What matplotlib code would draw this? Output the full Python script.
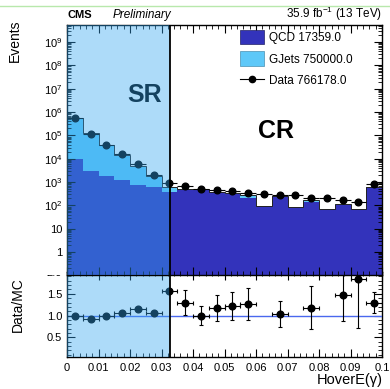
import matplotlib
matplotlib.use('Agg')
import matplotlib.pyplot as plt
import numpy as np
from matplotlib.patches import Patch, Rectangle
from matplotlib.lines import Line2D
from matplotlib.ticker import FixedLocator, MultipleLocator, FuncFormatter, LogLocator, NullFormatter

plt.rcParams['font.family'] = ['Liberation Sans', 'DejaVu Sans']
plt.rcParams['mathtext.fontset'] = 'custom'
plt.rcParams['mathtext.rm'] = 'Liberation Sans'
plt.rcParams['mathtext.it'] = 'Liberation Sans:italic'
plt.rcParams['mathtext.bf'] = 'Liberation Sans:bold'

# ---------------- data ----------------
bin_edges = [0.000, 0.005, 0.010, 0.015, 0.020, 0.025, 0.030, 0.035, 0.040, 0.045,
             0.050, 0.055, 0.060, 0.065, 0.070, 0.075, 0.080, 0.085, 0.090, 0.095, 0.100]
data = [582800, 115000, 39000, 16000, 5700, 1940, 940, 675, 500, 455,
        410, 350, 316, 277, 285, 200, 205, 170, 135, 820]
qcd = [9400, 2950, 1800, 1200, 740, 590, 390, 460, 480, 375,
       306, 216, 94, 256, 86, 140, 68, 106, 73, 630]
gjets = [573400, 121050, 37200, 13750, 4220, 1260, 210, 60, 20, 10,
         30, 60, 0, 10, 0, 30, 0, 10, 0, 0]
ratio = [1.00, 0.93, 1.00, 1.07, 1.15, 1.05, 1.56, 1.30, 1.00, 1.18,
         1.22, 1.27, np.nan, 1.04, np.nan, 1.18, np.nan, 1.47, 1.84, 1.30]
ratio_err_lo = [0.02, 0.02, 0.02, 0.02, 0.03, 0.04, 0.04, 0.28, 0.22, 0.30,
                0.33, 0.36, np.nan, 0.30, np.nan, 0.49, np.nan, 0.59, 1.13, 0.24]
ratio_err_hi = [0.02, 0.02, 0.02, 0.02, 0.03, 0.04, 0.04, 0.28, 0.22, 0.30,
                0.33, 0.36, np.nan, 0.30, np.nan, 0.49, np.nan, 0.90, 1.20, 0.24]
sr_cut = 0.0326
legend_labels = ['QCD 17359.0', 'GJets 750000.0', 'Data 766178.0']
x_ticks = [0.0, 0.01, 0.02, 0.03, 0.04, 0.05, 0.06, 0.07, 0.08, 0.09, 0.1]
y_ticks_up = [1, 10, 1e2, 1e3, 1e4, 1e5, 1e6, 1e7, 1e8, 1e9]
y_ticks_low = [0.5, 1.0, 1.5, 2.0]

# ---------------- styling ----------------
c_qcd = '#3333bb'
c_gj = '#5ec8f8'
c_sr = '#34a7f2'
W, H = 390, 389

edges = np.array(bin_edges)
centers = 0.5 * (edges[:-1] + edges[1:])
halfw = 0.5 * (edges[1:] - edges[:-1])
data_a = np.array(data, float)
qcd_a = np.array(qcd, float)
gj_a = np.array(gjets, float)
tot = qcd_a + gj_a

fig = plt.figure(figsize=(W / 100, H / 100), dpi=100)
ax_low = fig.add_axes([67 / W, 1 - 357 / H, 315 / W, 85 / H])
ax_up = fig.add_axes([67 / W, 1 - 274.5 / H, 315 / W, 249.5 / H])
ax_low.set_zorder(0)
ax_up.set_zorder(2)

# mask that hides the top of the "2.0" label (upper pad overlaps lower pad)
fig.add_artist(Rectangle((0, 1 - 274.5 / H), 66 / W, 9 / H, transform=fig.transFigure,
                         facecolor='white', edgecolor='none', zorder=1))
# green line at the very top (screenshot border)
fig.add_artist(Line2D([0, 1], [1 - 6 / H, 1 - 6 / H], transform=fig.transFigure,
                      color='#b8e8ac', lw=1.0, zorder=3))

# ---------------- upper panel ----------------
ymin, ymax = 0.11, 5.4e9
ax_up.stairs(qcd_a, edges, baseline=1e-3, fill=True, color=c_qcd, zorder=1)
ax_up.stairs(tot, edges, baseline=qcd_a, fill=True, color=c_gj, zorder=1)
ax_up.stairs(tot, edges, baseline=None, color='#222222', lw=0.7, zorder=2)
ax_up.errorbar(centers, data_a, xerr=halfw, yerr=np.sqrt(data_a), fmt='o', color='black',
               ms=4.8, lw=0.8, capsize=0, zorder=4)
ax_up.axvspan(0, sr_cut, color=c_sr, alpha=0.4, lw=0, zorder=5)
ax_up.axvline(sr_cut, color='black', lw=1.3, zorder=6)
ax_up.text(0.0245, 10 ** 6.75, 'SR', fontsize=18, fontweight='bold', ha='center', va='center',
           color='black', zorder=4.5)
ax_up.text(0.0665, 10 ** 5.2, 'CR', fontsize=18, fontweight='bold', ha='center', va='center',
           color='black', zorder=4.5)

ax_up.set_yscale('log')
ax_up.set_xlim(0, 0.1)
ax_up.set_ylim(ymin, ymax)
ax_up.yaxis.set_major_locator(FixedLocator(y_ticks_up))
ax_up.yaxis.set_minor_locator(LogLocator(base=10, subs=np.arange(2, 10), numticks=30))
ax_up.yaxis.set_minor_formatter(NullFormatter())


def fmt_up(v, pos):
    n = int(round(np.log10(v)))
    if n == 0:
        return '1'
    if n == 1:
        return '10'
    return '$10^{%d}$' % n


ax_up.yaxis.set_major_formatter(FuncFormatter(fmt_up))
ax_up.xaxis.set_major_locator(FixedLocator(x_ticks))
ax_up.xaxis.set_minor_locator(MultipleLocator(0.002))
ax_up.tick_params(axis='both', which='both', direction='in', top=True, right=True,
                  labelbottom=False, labelsize=8)
ax_up.tick_params(which='major', length=6, width=0.8)
ax_up.tick_params(which='minor', length=3, width=0.6)
for s in ax_up.spines.values():
    s.set_linewidth(1.0)

handles = [Patch(facecolor=c_qcd, edgecolor='#222266', lw=0.5),
           Patch(facecolor=c_gj, edgecolor='#4a8fb0', lw=0.5),
           Line2D([], [], color='black', marker='o', ms=4.5, lw=0.8)]
ax_up.legend(handles, legend_labels, loc='upper left', bbox_to_anchor=(0.548, 0.98),
             frameon=False, fontsize=8.5, borderpad=0, borderaxespad=0,
             handlelength=2.1, handleheight=1.5, handletextpad=0.35, labelspacing=0.6)

# ---------------- lower panel ----------------
ax_low.errorbar(centers, ratio, xerr=halfw, yerr=[ratio_err_lo, ratio_err_hi], fmt='o',
                color='black', ms=4.8, lw=0.8, capsize=1.5, capthick=0.8, zorder=4)
ax_low.axhline(1.0, color='#4a68ee', lw=1.0, zorder=3)
ax_low.axvspan(0, sr_cut, color=c_sr, alpha=0.4, lw=0, zorder=5)
ax_low.axvline(sr_cut, color='black', lw=1.3, zorder=6)
ax_low.set_xlim(0, 0.1)
ax_low.set_ylim(0.05, 2.0)
ax_low.yaxis.set_major_locator(FixedLocator(y_ticks_low))
ax_low.yaxis.set_minor_locator(MultipleLocator(0.1))
ax_low.yaxis.set_major_formatter(FuncFormatter(lambda v, p: '%.1f' % v))
ax_low.xaxis.set_major_locator(FixedLocator(x_ticks))
ax_low.xaxis.set_minor_locator(MultipleLocator(0.002))


def fmt_x(v, pos):
    if abs(v) < 1e-9:
        return '0'
    if abs(v - 0.1) < 1e-9:
        return '0.1'
    return '%.2f' % v


ax_low.xaxis.set_major_formatter(FuncFormatter(fmt_x))
ax_low.tick_params(axis='both', which='both', direction='in', top=True, right=True, labelsize=8)
ax_low.tick_params(which='major', length=6, width=0.8)
ax_low.tick_params(which='minor', length=3, width=0.6)
ax_low.tick_params(axis='x', pad=4)
for s in ax_low.spines.values():
    s.set_linewidth(1.0)

# ---------------- texts ----------------
fig.text(67 / W, 1 - 15 / H, 'CMS', fontsize=8, fontweight='bold', ha='left', va='center')
fig.text(113 / W, 1 - 15 / H, 'Preliminary', fontsize=8.5, style='italic', ha='left', va='center')
fig.text(382 / W, 1 - 14 / H, '35.9 fb$^{-1}$ (13 TeV)', fontsize=8.5, ha='right', va='center')
fig.text(15 / W, 1 - 19 / H, 'Events', fontsize=10, rotation=90, ha='center', va='top')
fig.text(18 / W, 1 - 305 / H, 'Data/MC', fontsize=10, rotation=90, ha='center', va='center')
fig.text(383 / W, 1 - 380 / H, 'HoverE(γ)', fontsize=10.5, ha='right', va='center')

fig.savefig('out.png', dpi=100)
